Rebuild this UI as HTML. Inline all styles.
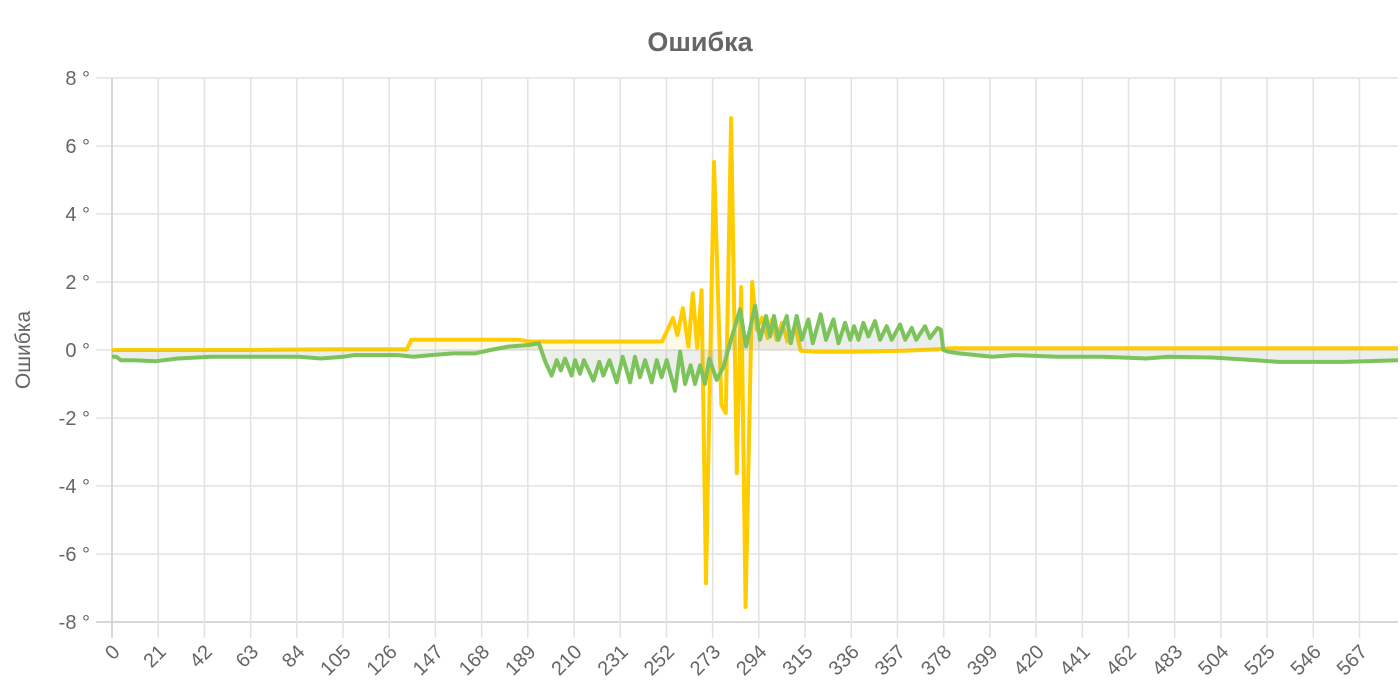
<!DOCTYPE html>
<html><head><meta charset="utf-8">
<style>
html,body{margin:0;padding:0;background:#fff;}
svg{display:block;font-family:"Liberation Sans","DejaVu Sans",sans-serif;}
</style></head>
<body>
<svg id="chart" width="1400" height="700" xmlns="http://www.w3.org/2000/svg">
<text x="700" y="51" text-anchor="middle" font-size="27" font-weight="bold" fill="#666">Ошибка</text>
<text transform="translate(30,350) rotate(-90)" text-anchor="middle" font-size="21" fill="#666">Ошибка</text>
<g id="grid"></g>
<g id="series"></g>
<g id="ticks"></g>
</svg>
<script>
const yTicks=[8,6,4,2,0,-2,-4,-6,-8];
const xTickStep=21;
const xMaxIndex=584.5;
const yellowX=[0,60,100,134,136,185,190,250,255,257,259.5,262,264,266,268,270,273.6,277,279,281.4,284,286,288,291,293,295.5,298,300,302,304.5,307,310.5,313,320,337,360,376,380,584.5];
const yellowY=[0,0,0.02,0.02,0.3,0.3,0.25,0.25,0.94,0.44,1.23,0.1,1.67,0.06,1.76,-6.86,5.53,-1.62,-1.85,6.82,-3.62,1.85,-7.56,2.0,0.6,0.95,0.35,0.9,0.3,0.8,0.25,0.7,-0.02,-0.05,-0.05,-0.02,0.02,0.05,0.05];
const greenX=[0,2,4,10,20,30,45,60,75,85,95,105,110,130,137,145,155,165,172,180,190,194,197,199.8,202.1,204,205.9,208.9,210.5,212.7,214.5,218.8,221.5,223.3,226.1,229.4,232.1,235.5,237.7,240,242.3,245.3,247.6,249.8,252.1,255.9,258.2,260.5,263,265,267.3,269.5,271.5,274.8,277.9,280.9,285.5,288.2,292.3,294.5,297.3,299.1,300.9,302.9,306.7,308.5,311.2,313.5,316.5,318.5,322.1,324.5,327.9,330.2,333.2,335.5,337.3,339.3,341.5,343.8,346.8,349.1,352.1,354.4,358.2,360.5,363.5,365.5,369.5,371.8,375.2,376.7,377.9,380,385,400,410,430,450,470,480,500,520,530,560,584.5];
const greenY=[-0.2,-0.2,-0.3,-0.3,-0.33,-0.25,-0.2,-0.2,-0.2,-0.2,-0.25,-0.2,-0.15,-0.15,-0.2,-0.15,-0.1,-0.1,0,0.1,0.15,0.2,-0.35,-0.75,-0.3,-0.6,-0.25,-0.75,-0.3,-0.7,-0.3,-0.9,-0.35,-0.75,-0.3,-0.95,-0.2,-0.95,-0.2,-0.8,-0.3,-0.95,-0.3,-0.8,-0.3,-1.2,-0.05,-1.0,-0.45,-1.0,-0.45,-1.0,-0.25,-0.88,-0.5,0.2,1.2,0.1,1.3,0.3,1.0,0.4,1.0,0.3,1.0,0.2,1.0,0.3,0.9,0.2,1.05,0.3,0.9,0.2,0.8,0.3,0.7,0.3,0.8,0.4,0.85,0.3,0.7,0.3,0.75,0.3,0.65,0.3,0.7,0.35,0.65,0.6,0.0,-0.05,-0.1,-0.2,-0.15,-0.2,-0.2,-0.25,-0.2,-0.22,-0.3,-0.35,-0.35,-0.3];

const L=112,R=1398,T=78,B=622;
const xs=i=>L+i*(R-L)/xMaxIndex;
const ys=v=>T+(8-v)*(B-T)/16;
const NS="http://www.w3.org/2000/svg";
function mk(tag,attrs,parent){const e=document.createElementNS(NS,tag);for(const k in attrs)e.setAttribute(k,attrs[k]);parent.appendChild(e);return e;}
const grid=document.getElementById('grid'),ticks=document.getElementById('ticks'),series=document.getElementById('series');
yTicks.forEach(v=>{
  const ln=mk('line',{x1:96,x2:R,y1:ys(v),y2:ys(v),stroke:v===-8?'#ccc':'#e2e2e2','stroke-width':1.5},grid);
  
  
  const t=mk('text',{x:90,y:ys(v)+7,'text-anchor':'end','font-size':20,fill:'#666'},ticks);
  t.textContent=v+' °';
  
  
});
for(let i=0;i<=xMaxIndex;i+=xTickStep){
  const x=xs(i);
  const ln=mk('line',{x1:x,x2:x,y1:T,y2:638,stroke:i===0?'#ccc':'#e2e2e2','stroke-width':1.5},grid);
  
  
  const t=mk('text',{x:0,y:0,'text-anchor':'end','font-size':20,fill:'#666',transform:`translate(${x+9},${653}) rotate(-45)`},ticks);
  t.textContent=String(i);
  
  
}
function drawSeries(X,Y,color,fill,name){
  let d='';X.forEach((x,k)=>{d+=(k?'L':'M')+xs(x).toFixed(1)+','+ys(Y[k]).toFixed(1);});
  const area=mk('path',{d:d+`L${xs(X[X.length-1])},${ys(0)}L${xs(X[0])},${ys(0)}Z`,fill:fill,stroke:'none'},series);
  
  
  const p=mk('path',{d:d,fill:'none',stroke:color,'stroke-width':4,'stroke-linejoin':'round'},series);
  
  
}
drawSeries(yellowX,yellowY,'#ffcc00','rgba(255,220,80,0.15)','yellow-series');
drawSeries(greenX,greenY,'#7dc35b','rgba(150,160,150,0.18)','green-series');
</script>
</body></html>
